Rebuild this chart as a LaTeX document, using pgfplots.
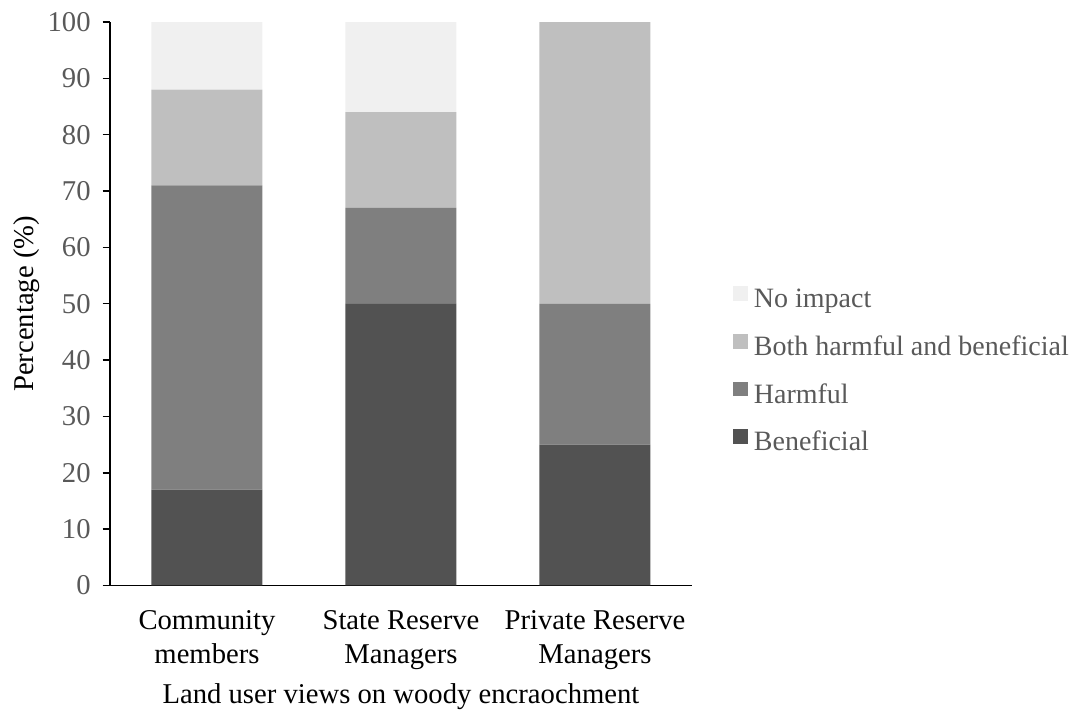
\documentclass[border=0pt]{standalone}
\usepackage{pgfplots}
\pgfplotsset{compat=1.18}
\usepackage{fontspec}
\setmainfont{Liberation Serif}
\definecolor{cBen}{HTML}{525252}
\definecolor{cHarm}{HTML}{7F7F7F}
\definecolor{cBoth}{HTML}{BFBFBF}
\definecolor{cNone}{HTML}{F0F0F0}
\definecolor{txtgray}{HTML}{595959}
\newcommand{\chartfont}{\fontsize{21.5}{25.5}\selectfont}
\newcommand{\legendfont}{\fontsize{21}{25}\selectfont}
\begin{document}
\begin{tikzpicture}[x=0.75pt,y=0.75pt]
\begin{axis}[
  name=ax,
  at={(0,0)}, anchor=south west,
  width=436.5pt, height=422.6pt,
  scale only axis,
  ybar stacked,
  bar width=83.25pt,
  xmin=-0.5, xmax=2.5,
  ymin=0, ymax=100,
  ytick={0,10,...,100},
  xtick={0,1,2},
  xticklabels={{Community\\members},{State Reserve\\Managers},{Private Reserve\\Managers}},
  xticklabel style={align=center, font=\chartfont, text=black, yshift=-9.5pt},
  yticklabel style={font=\chartfont, text=txtgray, xshift=-5.5pt},
  /pgf/number format/assume math mode=true,
  axis x line=bottom, axis y line=left,
  axis line style={-, black, line width=1.1pt},
  xtick style={draw=none},
  ytick style={black, line width=1.1pt},
  tick align=outside,
  major tick length=5.5pt,
  ylabel={Percentage (\%)},
  ylabel style={font=\chartfont, at={(axis description cs:-0.143,0.5)}, anchor=center},
  xlabel={Land user views on woody encraochment},
  xlabel style={font=\chartfont, at={(axis description cs:0.5,-0.198)}, anchor=center},
  legend style={at={(axis description cs:1.0704,0.379)}, anchor=west,
    draw=none, fill=none, font=\legendfont, text=txtgray,
    inner sep=0pt, row sep=14.75pt, column sep=4.5pt,
    nodes={inner sep=0pt, text height=14pt, text depth=5pt}},
  legend cell align=left,
  reverse legend,
  legend image code/.code={\fill[#1] (0pt,0.5pt) rectangle (11pt,11.5pt);},
]
\addplot+[fill=cBen, draw=none] coordinates {(0,17) (1,50) (2,25)};
\addplot+[fill=cHarm, draw=none] coordinates {(0,54) (1,17) (2,25)};
\addplot+[fill=cBoth, draw=none] coordinates {(0,17) (1,17) (2,50)};
\addplot+[fill=cNone, draw=none] coordinates {(0,12) (1,16) (2,0)};
\legend{Beneficial,Harmful,Both harmful and beneficial,No impact}
\end{axis}
\path (ax.south west) ++(-110,-125.5) rectangle ++(1072,711);
\end{tikzpicture}
\end{document}
